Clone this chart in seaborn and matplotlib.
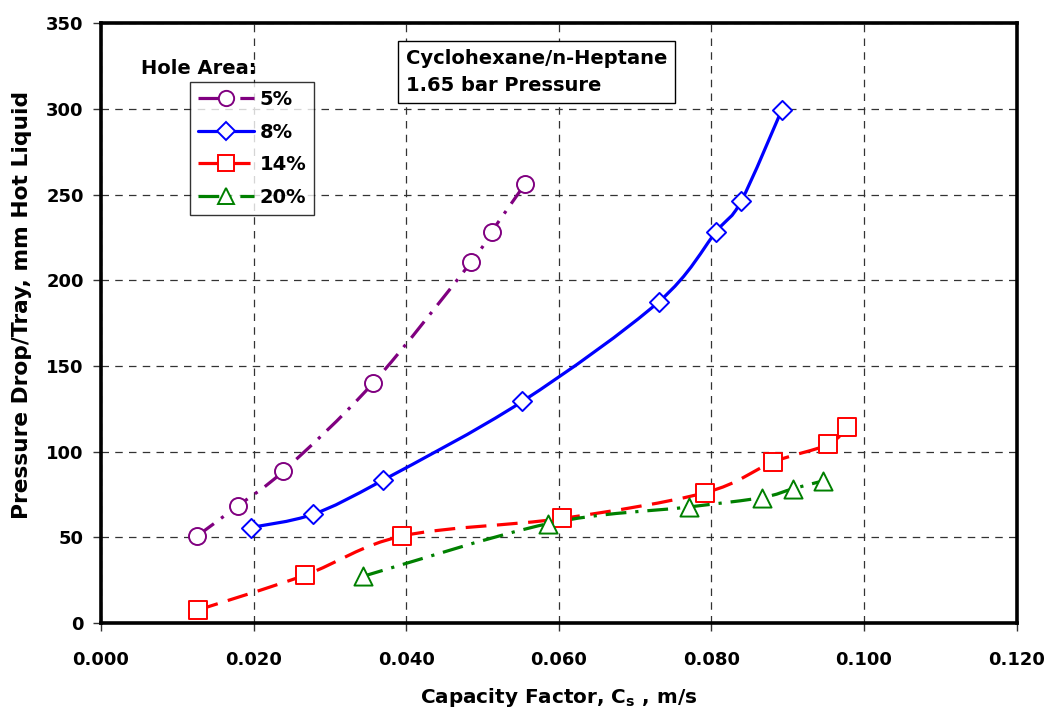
import numpy as np
import pandas as pd
import matplotlib
matplotlib.use("Agg")
import matplotlib.pyplot as plt
import seaborn as sns
from matplotlib.path import Path
from matplotlib.patches import PathPatch
from matplotlib.lines import Line2D
from matplotlib.ticker import MultipleLocator, FormatStrFormatter

# Pressure drop per tray vs. capacity factor for four sieve-tray hole areas
cs_5 = [0.0126, 0.0179, 0.0239, 0.0356, 0.0485, 0.0512, 0.0556]
dp_5 = [50.8, 68.3, 88.7, 139.8, 210.6, 228.5, 256.4]

cs_8 = [0.0196, 0.0278, 0.0370, 0.0552, 0.0731, 0.0806, 0.0839, 0.0892]
dp_8 = [55.7, 63.5, 83.5, 129.3, 187.5, 228.3, 246.3, 299.3]

cs_14 = [0.0127, 0.0267, 0.0395, 0.0604, 0.0792, 0.0881, 0.0953, 0.0977]
dp_14 = [7.6, 27.9, 50.8, 61.0, 76.1, 94.0, 104.2, 114.3]

cs_20 = [0.0343, 0.0586, 0.0770, 0.0866, 0.0907, 0.0946]
dp_20 = [27.2, 58.0, 67.7, 73.2, 78.4, 82.9]

labels = ["5%", "8%", "14%", "20%"]
colors = ["#800080", "#0000FF", "#FF0000", "#008000"]
markers = ["o", "D", "s", "^"]
marker_sizes = [150, 95, 170, 170]
line_styles = [
    (0, (6.5, 2.8, 1.0, 2.8)),
    "-",
    (0, (6.5, 3.3)),
    (0, (6.5, 2.8, 1.0, 2.8)),
]

frames = []
for lab, xs, ys in zip(labels, [cs_5, cs_8, cs_14, cs_20], [dp_5, dp_8, dp_14, dp_20]):
    frames.append(pd.DataFrame({"Cs": xs, "dP": ys, "Hole Area": lab}))
df = pd.concat(frames, ignore_index=True)

sns.set_theme(style="white")
plt.rcParams["font.family"] = ["DejaVu Sans"]
plt.rcParams["font.weight"] = "bold"
plt.rcParams["mathtext.default"] = "bf"
plt.rcParams["text.color"] = "black"
plt.rcParams["axes.labelcolor"] = "black"
plt.rcParams["xtick.color"] = "black"
plt.rcParams["ytick.color"] = "black"

fig = plt.figure(figsize=(10.48, 7.12), dpi=100)
ax = fig.add_axes([0.0964, 0.125, 0.8737, 0.8422])


def smooth_path(xs, ys):
    """Cubic Bezier path through the points (Catmull-Rom style smoothing)."""
    pts = np.column_stack([xs, ys]).astype(float)
    n = len(pts)
    verts = [pts[0]]
    codes = [Path.MOVETO]
    for i in range(n - 1):
        p0 = pts[i - 1] if i > 0 else pts[i]
        p1 = pts[i]
        p2 = pts[i + 1]
        p3 = pts[i + 2] if i + 2 < n else pts[i + 1]
        c1 = p1 + (p2 - p0) / 6.0
        c2 = p2 - (p3 - p1) / 6.0
        verts += [c1, c2, p2]
        codes += [Path.CURVE4] * 3
    return Path(verts, codes)


for lab, col, ls in zip(labels, colors, line_styles):
    sub = df[df["Hole Area"] == lab]
    patch = PathPatch(smooth_path(sub["Cs"].values, sub["dP"].values),
                      facecolor="none", edgecolor=col, lw=2.3,
                      linestyle=ls, zorder=3, capstyle="butt")
    ax.add_patch(patch)

for lab, col, mk, ms in zip(labels, colors, markers, marker_sizes):
    sub = df[df["Hole Area"] == lab]
    sns.scatterplot(data=sub, x="Cs", y="dP", marker=mk, s=ms,
                    facecolor="white", edgecolor=col, linewidth=1.4,
                    zorder=4, ax=ax, legend=False)

ax.set_xlim(0, 0.12)
ax.set_ylim(0, 350)
ax.xaxis.set_major_locator(MultipleLocator(0.02))
ax.yaxis.set_major_locator(MultipleLocator(50))
ax.xaxis.set_major_formatter(FormatStrFormatter("%.3f"))

ax.grid(True, which="major", color="#333333", linestyle=(0, (6, 5)), linewidth=0.9)
ax.set_axisbelow(True)

for sp in ax.spines.values():
    sp.set_visible(True)
    sp.set_color("black")
    sp.set_linewidth(2.6)

ax.tick_params(axis="both", which="major", direction="out", length=5.5, width=1,
               color="#333333", labelcolor="black", labelsize=13,
               bottom=True, left=True)
ax.tick_params(axis="x", pad=15)
ax.tick_params(axis="y", pad=7)
for t in ax.get_xticklabels() + ax.get_yticklabels():
    t.set_fontweight("bold")

ax.set_xlabel("Capacity Factor, C$_\\mathbf{s}$ , m/s", fontsize=14.4,
              fontweight="bold", labelpad=12)
ax.set_ylabel("Pressure Drop/Tray, mm Hot Liquid", fontsize=15.7,
              fontweight="bold", labelpad=9)
ax.yaxis.set_label_coords(-0.075, 0.53)

handles = [
    Line2D([0], [0], color=c, lw=2.3, linestyle=ls, marker=m,
           markersize=11 if m != "D" else 9, markerfacecolor="white",
           markeredgecolor=c, markeredgewidth=1.4)
    for c, ls, m in zip(colors, line_styles, markers)
]
leg = ax.legend(handles, labels, loc="upper left", bbox_to_anchor=(0.097, 0.902),
                frameon=True, fancybox=False, prop={"size": 14, "weight": "bold"},
                handlelength=2.9, handletextpad=0.3, borderpad=0.4,
                labelspacing=0.7, borderaxespad=0)
leg.get_frame().set_edgecolor("black")
leg.get_frame().set_linewidth(1.0)

ax.text(0.044, 0.924, "Hole Area:", transform=ax.transAxes, fontsize=14,
        fontweight="bold", ha="left", va="center")

ax.text(0.333, 0.958, "Cyclohexane/n-Heptane\n1.65 bar Pressure",
        transform=ax.transAxes, fontsize=14, fontweight="bold",
        ha="left", va="top", linespacing=1.55,
        bbox=dict(boxstyle="square,pad=0.4", facecolor="white",
                  edgecolor="black", linewidth=1.0))

fig.savefig("out.png", dpi=100)
